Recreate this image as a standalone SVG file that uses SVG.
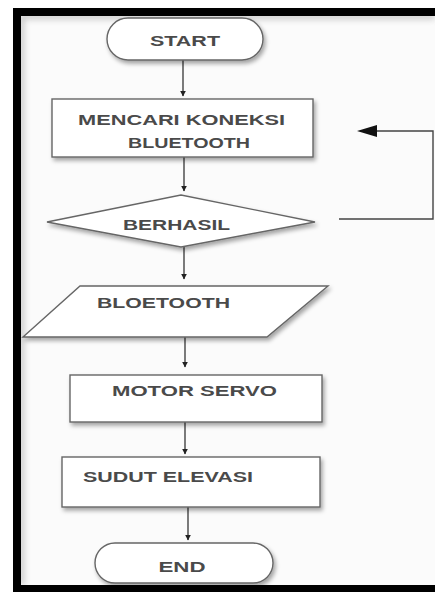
<svg xmlns="http://www.w3.org/2000/svg" width="435" height="592" viewBox="0 0 435 592">
<defs>
<filter id="sh" x="-10%" y="-20%" width="130%" height="160%">
<feDropShadow dx="2" dy="3" stdDeviation="2" flood-color="#000" flood-opacity="0.35"/>
</filter>
<filter id="blur" x="-20%" y="-20%" width="140%" height="140%">
<feGaussianBlur stdDeviation="3"/>
</filter>
<marker id="ah" viewBox="0 0 10 10" refX="9" refY="5" markerWidth="6" markerHeight="6" orient="auto" markerUnits="userSpaceOnUse">
<path d="M0,0 L10,5 L0,10 z" fill="#222"/>
</marker>
<marker id="big" viewBox="0 0 20 12" refX="0" refY="6" markerWidth="21" markerHeight="12" orient="auto-start-reverse" markerUnits="userSpaceOnUse">
<path d="M0,6 L20,0 L20,12 z" fill="#111"/>
</marker>
</defs>
<style>
.shape{fill:#fff;stroke:#666;stroke-width:1.4;filter:url(#sh)}
.t{font-family:"Liberation Sans",Arial,sans-serif;font-size:14px;fill:#4a4a4a;font-weight:bold}
.c{fill:none;stroke:#444;stroke-width:1.4}
</style>
<rect x="0" y="0" width="435" height="592" fill="#fff"/>
<rect x="21" y="16" width="414" height="569" fill="#fbfbfb"/>
<g filter="url(#blur)" opacity="0.5">
<rect x="21" y="14" width="414" height="5" fill="#888"/>
<rect x="19" y="16" width="5" height="569" fill="#888"/>
</g>
<rect x="13" y="8" width="422" height="8" fill="#000"/>
<rect x="13" y="8" width="8" height="584" fill="#000"/>
<rect x="13" y="585" width="422" height="7" fill="#000"/>

<g id="connectors">
<line class="c" x1="183" y1="60" x2="183" y2="96" marker-end="url(#ah)"/>
<line class="c" x1="184" y1="157" x2="184" y2="191" marker-end="url(#ah)"/>
<line class="c" x1="184" y1="247" x2="184" y2="279" marker-end="url(#ah)"/>
<line class="c" x1="185" y1="337" x2="185" y2="367" marker-end="url(#ah)"/>
<line class="c" x1="185" y1="422" x2="185" y2="454" marker-end="url(#ah)"/>
<line class="c" x1="188" y1="507" x2="188" y2="540" marker-end="url(#ah)"/>
<polyline class="c" points="339,219 433,219 433,131 377,131"/>
<path d="M357,131 L377,125 L377,137 z" fill="#111"/>
</g>

<g id="start">
<rect class="shape" x="107" y="18" width="156" height="42" rx="21"/>
<text class="t" x="185" y="46" text-anchor="middle" textLength="70" lengthAdjust="spacingAndGlyphs">START</text>
</g>
<g id="mencari">
<rect class="shape" x="52" y="99" width="261" height="58"/>
<text class="t" x="78" y="125" textLength="207" lengthAdjust="spacingAndGlyphs">MENCARI KONEKSI</text>
<text class="t" x="128" y="148" textLength="122" lengthAdjust="spacingAndGlyphs">BLUETOOTH</text>
</g>
<g id="berhasil">
<polygon class="shape" points="47,222 181,195 315,222 181,247"/>
<text class="t" x="123" y="230" textLength="107" lengthAdjust="spacingAndGlyphs">BERHASIL</text>
</g>
<g id="bloetooth">
<polygon class="shape" points="80,286 328,286 267,337 23,337"/>
<text class="t" x="97" y="308" textLength="133" lengthAdjust="spacingAndGlyphs">BLOETOOTH</text>
</g>
<g id="motor">
<rect class="shape" x="70" y="375" width="252" height="47"/>
<text class="t" x="112" y="396" textLength="165" lengthAdjust="spacingAndGlyphs">MOTOR SERVO</text>
</g>
<g id="sudut">
<rect class="shape" x="62" y="457" width="258" height="50"/>
<text class="t" x="83" y="482" textLength="170" lengthAdjust="spacingAndGlyphs">SUDUT ELEVASI</text>
</g>
<g id="end">
<rect class="shape" x="95" y="543" width="178" height="40" rx="20"/>
<text class="t" x="182" y="572" text-anchor="middle" textLength="47" lengthAdjust="spacingAndGlyphs">END</text>
</g>
<rect x="13" y="585" width="422" height="7" fill="#000"/>
</svg>
